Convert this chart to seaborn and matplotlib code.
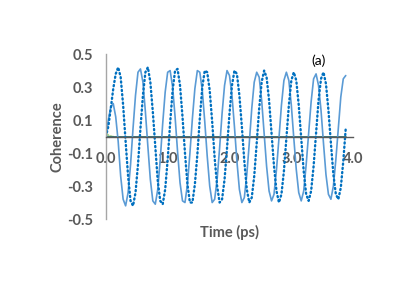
import numpy as np
import pandas as pd
import seaborn as sns
import matplotlib
matplotlib.use("Agg")
import matplotlib.pyplot as plt

# time grid (ps), 0.04 ps apart
time_ps = [round(0.04 * i, 2) for i in range(98)]

# solid light blue curve
coh_solid = [0.00, 0.10, 0.18, 0.20, 0.12, -0.03, -0.24, -0.38, -0.42, -0.34,
             -0.17, 0.05, 0.25, 0.39, 0.41, 0.33, 0.15, -0.06, -0.26, -0.39,
             -0.41, -0.32, -0.14, 0.08, 0.27, 0.39, 0.40, 0.30, 0.12, -0.09,
             -0.28, -0.39, -0.40, -0.29, -0.10, 0.11, 0.29, 0.40, 0.39, 0.28,
             0.09, -0.12, -0.30, -0.40, -0.38, -0.26, -0.07, 0.14, 0.31, 0.40,
             0.37, 0.25, 0.06, -0.15, -0.32, -0.40, -0.37, -0.23, -0.04, 0.17,
             0.33, 0.39, 0.36, 0.22, 0.02, -0.18, -0.33, -0.39, -0.35, -0.20,
             -0.01, 0.19, 0.34, 0.39, 0.34, 0.19, -0.01, -0.20, -0.34, -0.39,
             -0.33, -0.17, 0.02, 0.21, 0.35, 0.38, 0.31, 0.16, -0.04, -0.23,
             -0.35, -0.38, -0.30, -0.14, 0.05, 0.24, 0.35, 0.37]

# dotted dark blue curve
coh_dotted = [0.00, 0.06, 0.17, 0.29, 0.38, 0.42, 0.36, 0.19, -0.03, -0.24,
              -0.39, -0.42, -0.34, -0.17, 0.05, 0.25, 0.39, 0.42, 0.33, 0.15,
              -0.06, -0.27, -0.39, -0.41, -0.32, -0.14, 0.08, 0.28, 0.40, 0.41,
              0.31, 0.12, -0.10, -0.29, -0.40, -0.40, -0.29, -0.11, 0.11, 0.30,
              0.40, 0.39, 0.28, 0.09, -0.13, -0.30, -0.40, -0.38, -0.26, -0.07,
              0.14, 0.31, 0.40, 0.38, 0.25, 0.06, -0.15, -0.32, -0.40, -0.37,
              -0.24, -0.04, 0.17, 0.33, 0.40, 0.36, 0.22, 0.02, -0.18, -0.33,
              -0.40, -0.35, -0.21, -0.01, 0.19, 0.34, 0.39, 0.34, 0.19, -0.01,
              -0.21, -0.35, -0.39, -0.33, -0.18, 0.02, 0.22, 0.35, 0.39, 0.32,
              0.16, -0.04, -0.23, -0.35, -0.38, -0.31, -0.15, 0.05]

# flat teal curve lying on zero
coh_flat = [0.0] * 98

# small green wiggle near the origin
time_green = [0.00, 0.02, 0.04, 0.06, 0.08, 0.10, 0.12]
coh_green = [0.00, 0.015, 0.01, -0.005, 0.004, 0.0, 0.0]

x_ticks = [0, 1, 2, 3, 4]
x_ticklabels = ["0.0", "1.0", "2.0", "3.0", "4.0"]
y_ticks = [-0.5, -0.3, -0.1, 0.1, 0.3, 0.5]
y_ticklabels = ["-0.5", "-0.3", "-0.1", "0.1", "0.3", "0.5"]

sns.set_style("white")
plt.rcParams["font.family"] = ["Lato", "DejaVu Sans"]

df = pd.DataFrame({"t": time_ps, "solid": coh_solid, "dotted": coh_dotted, "flat": coh_flat})
dg = pd.DataFrame({"t": time_green, "v": coh_green})

fig = plt.figure(figsize=(4.15, 2.94), dpi=100)
ax = fig.add_axes([0.255, 0.255, 0.596, 0.561])

sns.lineplot(data=dg, x="t", y="v", ax=ax, color="#A9D18E", lw=1.2)
sns.lineplot(data=df, x="t", y="flat", ax=ax, color="#2F6B6B", lw=1.3)
sns.lineplot(data=df, x="t", y="solid", ax=ax, color="#5B9BD5", lw=1.2)
sns.lineplot(data=df, x="t", y="dotted", ax=ax, color="#0070C0", lw=1.7,
             linestyle=(0, (0.5, 1.3)), dash_capstyle="round")

ax.set_xlim(0, 4)
ax.set_ylim(-0.5, 0.5)
ax.set_xticks(x_ticks)
ax.set_xticklabels(x_ticklabels)
ax.set_yticks(y_ticks)
ax.set_yticklabels(y_ticklabels)

for side in ["top", "right"]:
    ax.spines[side].set_visible(False)
ax.spines["bottom"].set_position(("data", 0))
ax.spines["bottom"].set_color("#595959")
ax.spines["left"].set_color("#A6A6A6")
ax.spines["bottom"].set_linewidth(1.0)
ax.spines["left"].set_linewidth(1.0)

ax.tick_params(axis="x", direction="out", length=3, width=0.8, color="#595959",
               pad=8, labelsize=10.5, labelcolor="#595959")
ax.tick_params(axis="y", direction="out", length=3, width=0.8, color="#A6A6A6",
               pad=6, labelsize=10.5, labelcolor="#595959")
for lab in ax.get_xticklabels() + ax.get_yticklabels():
    lab.set_fontweight("bold")

ax.set_xlabel("Time (ps)", fontsize=10.5, fontweight="bold", color="#595959")
ax.set_ylabel("Coherence", fontsize=10.5, fontweight="bold", color="#595959", labelpad=2)
ax.xaxis.set_label_coords(0.5, -0.035)

ax.text(3.44, 0.46, "(a)", fontsize=10, color="black", ha="center", va="center")

fig.savefig("out.png", dpi=100)
